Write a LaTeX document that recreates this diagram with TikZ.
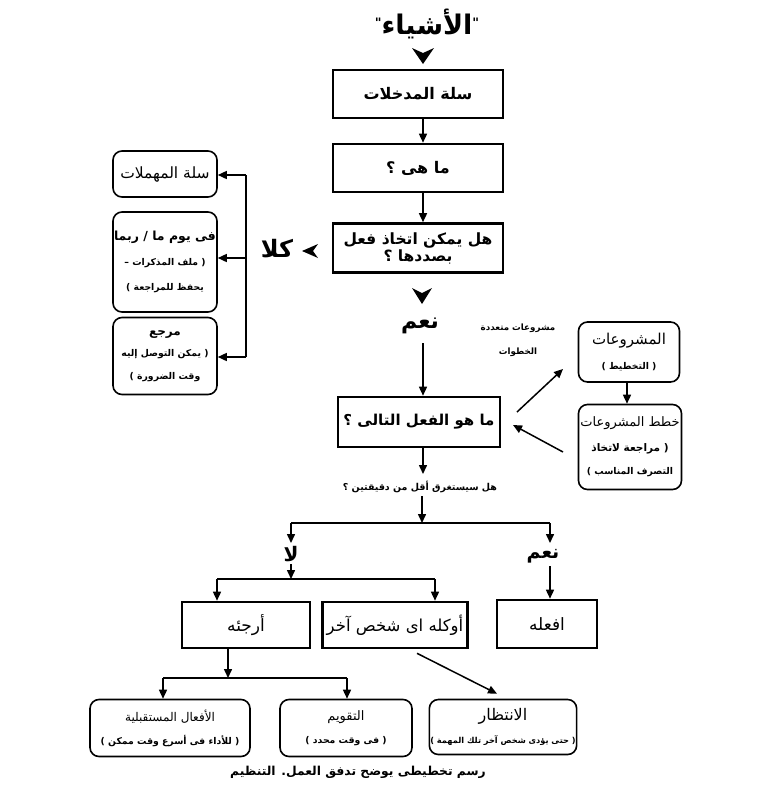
\documentclass[tikz,border=0pt]{standalone}
\usepackage{fontspec}
\newfontfamily\arabicfont[Script=Arabic]{DejaVu Sans}
\TeXXeTstate=1
\usetikzlibrary{arrows.meta}
\newcommand{\arx}[1]{\beginR #1\endR}
\newcommand{\sbt}[1]{{\bfseries\fontsize{9.3}{10}\selectfont\arx{#1}}}
\newcommand{\sbs}[1]{{\bfseries\fontsize{8.2}{10}\selectfont\arx{#1}}}
\newcommand{\smq}{\raisebox{7pt}{\fontsize{13}{13}\selectfont"}}
\begin{document}
\begin{tikzpicture}[x=1pt,y=-1pt,
  tbox/.style={draw, line width=2.6pt, align=center, inner sep=1pt,
    font=\arabicfont\bfseries\fontsize{16}{17}\selectfont},
  tboxr/.style={tbox, font=\arabicfont\fontsize{17}{18}\selectfont},
  rbox/.style={draw, line width=1.6pt, rounded corners=9pt, align=center, inner sep=1pt,
    font=\arabicfont\fontsize{13}{15}\selectfont},
  arr/.style={line width=1.5pt, -{Triangle[length=9pt,width=8pt]}},
  ln/.style={line width=1.5pt},
  big/.style={inner sep=0pt, font=\arabicfont\bfseries\fontsize{22}{24}\selectfont},
  qtext/.style={inner sep=0pt, align=center, font=\arabicfont\bfseries\fontsize{9.5}{12}\selectfont},
  caption/.style={inner sep=0pt, font=\arabicfont\bfseries\fontsize{12.3}{14}\selectfont}]
\useasboundingbox (0,0) rectangle (768,793);
\fill[white] (0,0) rectangle (768,793);

% top column
\node[big, font=\arabicfont\bfseries\fontsize{27}{28}\selectfont] (title) at (427,24) {\arx{\smq الأشياء\smq}};
\coordinate (c1) at (423,56);
\fill[shift={(c1)}] (-11,-8) -- (0,-3) -- (11,-8) -- (0,8) -- cycle;
\node[tbox, minimum width=170, minimum height=48] (in) at (418,94) {\arx{سلة المدخلات}};
\node[tbox, minimum width=170, minimum height=48] (what) at (418,168) {\arx{ما هى ؟}};
\node[tbox, minimum width=170, minimum height=49, font=\arabicfont\bfseries\fontsize{15.5}{17}\selectfont] (act) at (418,248) {\arx{هل يمكن اتخاذ فعل}\\\arx{بصددها ؟}};
\draw[arr] ([xshift=5pt]in.south) -- ([xshift=5pt]what.north);
\draw[arr] ([xshift=5pt]what.south) -- ([xshift=5pt]act.north);

% no branch
\coordinate (c2) at (310,251);
\fill[shift={(c2)}] (8,-7) -- (3,0) -- (8,7) -- (-8,0) -- cycle;
\node[big, font=\arabicfont\bfseries\fontsize{24}{26}\selectfont] (no1) at (277,249) {\arx{كلا}};
\node[rbox, minimum width=104, minimum height=46, font=\arabicfont\fontsize{15.5}{17}\selectfont] (trash) at (165,174) {\arx{سلة المهملات}};
\node[rbox, minimum width=104, minimum height=100] (someday) at (165,262)
  {{\bfseries\fontsize{12.5}{15}\selectfont\arx{فى يوم ما / ربما}}\\[10pt]\sbt{( ملف المذكرات –}\\[10pt]\sbt{يحفظ للمراجعة )}};
\node[rbox, minimum width=104, minimum height=77] (ref) at (165,356)
  {{\bfseries\fontsize{12}{13}\selectfont\arx{مرجع}}\\[6pt]\sbt{( يمكن التوصل إليه}\\[8pt]\sbt{وقت الضرورة )}};
\coordinate (v1) at (246,175);
\coordinate (v2) at (246,258);
\coordinate (v3) at (246,357);
\draw[ln] (v1) -- (v3);
\draw[arr] (v1) -- (v1 -| trash.east);
\draw[arr] (v2) -- (v2 -| someday.east);
\draw[arr] (v3) -- (v3 -| ref.east);

% yes branch
\coordinate (c3) at (422,296);
\fill[shift={(c3)}] (-10,-8) -- (0,-3) -- (10,-8) -- (0,8) -- cycle;
\node[big] (yes1) at (420,326) {\arx{نعم}};
\node[tbox, minimum width=162, minimum height=50, font=\arabicfont\bfseries\fontsize{15}{17}\selectfont] (next) at (419,422) {\arx{ما هو الفعل التالى ؟}};
\coordinate (vy) at (423,343);
\draw[arr] (vy) -- (vy |- next.north);

% projects
\node[rbox, minimum width=101, minimum height=60, font=\arabicfont\fontsize{15}{15}\selectfont] (proj) at (629,352)
  {\arx{المشروعات}\\[10pt]\sbt{( التخطيط )}};
\node[rbox, minimum width=103, minimum height=85] (plans) at (630,447)
  {\arx{خطط المشروعات}\\[10pt]{\bfseries\fontsize{10.5}{10}\selectfont\arx{( مراجعة لاتخاذ}}\\[8pt]\sbt{التصرف المناسب )}};
\node[qtext, font=\arabicfont\bfseries\fontsize{8.7}{12}\selectfont] (multi) at (518,340) {\arx{مشروعات متعددة}\\[12pt]\arx{الخطوات}};
\draw[arr] ([xshift=-2pt]proj.south) -- ([xshift=-2pt]proj.south |- plans.north);
\coordinate (d1s) at (517,412);
\coordinate (d1e) at (563,369);
\coordinate (d2s) at (563,452);
\coordinate (d2e) at (513,425);
\draw[arr] (d1s) -- (d1e);
\draw[arr] (d2s) -- (d2e);

% two minutes
\node[qtext] (two) at (420,487) {\arx{هل سيستغرق أقل من دقيقتين ؟}};
\coordinate (vq) at (423,474);
\draw[arr] (vq |- next.south) -- (vq);
\coordinate (h1) at (422,523);
\coordinate (h1l) at (291,523);
\coordinate (h1r) at (550,523);
\draw[arr] ([yshift=-3pt]two.south -| h1) -- (h1);
\draw[ln] (h1l) -- (h1r);
\node[big, font=\arabicfont\bfseries\fontsize{20}{22}\selectfont] (no2) at (291,554) {\arx{لا}};
\node[big, font=\arabicfont\bfseries\fontsize{19}{22}\selectfont] (yes2) at (543,556) {\arx{نعم}};
\coordinate (n2t) at (291,543);
\coordinate (n2b) at (291,564);
\coordinate (y2t) at (550,543);
\coordinate (y2b) at (550,566);
\draw[arr] (h1l) -- (n2t);
\draw[arr] (h1r) -- (y2t);

\coordinate (h2) at (291,579);
\coordinate (h2l) at (217,579);
\coordinate (h2r) at (435,579);
\draw[arr] (n2b) -- (h2);
\draw[ln] (h2l) -- (h2r);
\node[tboxr, minimum width=128, minimum height=46] (defer) at (246,625) {\arx{أرجئه}};
\node[tboxr, minimum width=145, minimum height=46, font=\arabicfont\fontsize{16.5}{18}\selectfont] (deleg) at (395,625) {\arx{أوكله اى شخص آخر}};
\node[tboxr, minimum width=100, minimum height=48] (doit) at (547,624) {\arx{افعله}};
\draw[arr] (h2l) -- (h2l |- defer.north);
\draw[arr] (h2r) -- (h2r |- deleg.north);
\draw[arr] (y2b) -- (y2b |- doit.north);

% bottom row
\coordinate (h3) at (228,678);
\coordinate (h3l) at (163,678);
\coordinate (h3r) at (347,678);
\draw[arr] (h3 |- defer.south) -- (h3);
\draw[ln] (h3l) -- (h3r);
\node[rbox, minimum width=160, minimum height=57, font=\arabicfont\fontsize{12}{15}\selectfont] (future) at (170,728)
  {\arx{الأفعال المستقبلية}\\[8pt]\sbt{( للأداء فى أسرع وقت ممكن )}};
\node[rbox, minimum width=132, minimum height=57] (cal) at (346,728)
  {\arx{التقويم}\\[8pt]\sbt{( فى وقت محدد )}};
\node[rbox, minimum width=147, minimum height=55, font=\arabicfont\fontsize{16}{15}\selectfont] (wait) at (503,727)
  {\arx{الانتظار}\\[8pt]\sbs{( حتى يؤدى شخص آخر تلك المهمة )}};
\draw[arr] (h3l) -- (h3l |- future.north);
\draw[arr] (h3r) -- (h3r |- cal.north);
\draw[arr] ([xshift=22pt,yshift=-4pt]deleg.south) -- ([xshift=-6pt,yshift=5pt]wait.north);

\node[caption] (cap) at (358,772) {\arx{رسم تخطيطى يوضح تدفق العمل. التنظيم}};
\end{tikzpicture}
\end{document}
